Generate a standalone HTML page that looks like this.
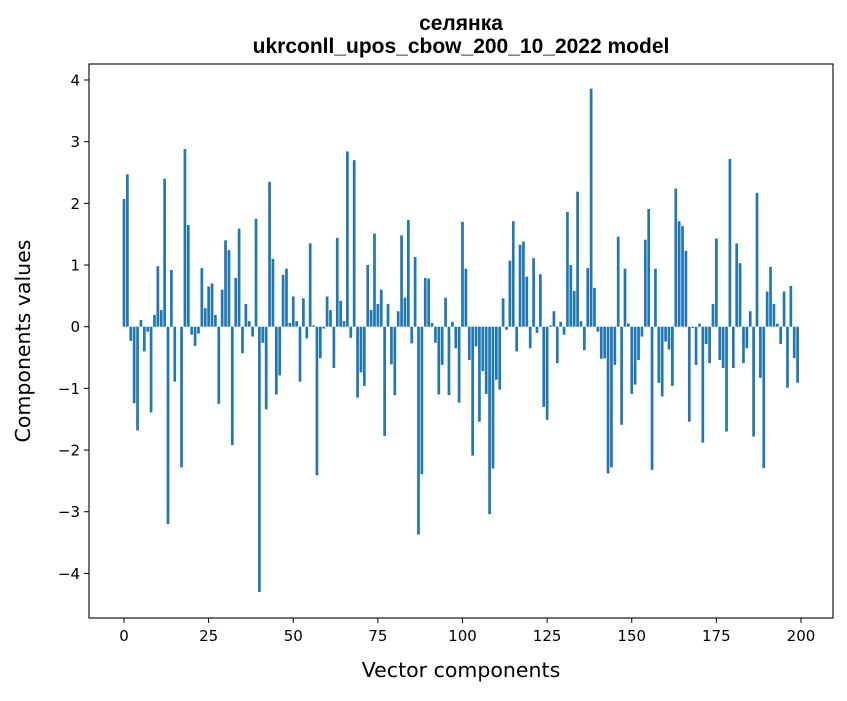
<!DOCTYPE html>
<html><head><meta charset="utf-8"><style>
html,body{margin:0;padding:0;background:#fff;}
svg text{font-family:"DejaVu Sans","Liberation Sans",sans-serif;fill:#000;}
svg text.title{font-family:"Liberation Sans","DejaVu Sans",sans-serif;}
</style></head><body>
<svg id="chart" width="847" height="696" viewBox="0 0 847 696" xmlns="http://www.w3.org/2000/svg">
<rect width="847" height="696" fill="#fff"/>
<text class="title" x="461" y="30" font-size="21" font-weight="bold" text-anchor="middle">селянка</text>
<text class="title" x="461" y="53" font-size="21" font-weight="bold" text-anchor="middle">ukrconll_upos_cbow_200_10_2022 model</text>
<g id="bars"></g>
<g id="axes"></g>
<text x="461" y="677" font-size="20.5" text-anchor="middle">Vector components</text>
<text transform="translate(30,341) rotate(-90)" font-size="20.5" text-anchor="middle">Components values</text>
</svg>
<script>
const values = [2.07,2.47,-0.23,-1.24,-1.68,0.11,-0.40,-0.08,-1.39,0.19,
0.98,0.27,2.40,-3.20,0.92,-0.89,0.0,-2.28,2.88,1.65,
-0.13,-0.31,-0.11,0.95,0.30,0.65,0.70,0.19,-1.25,0.60,
1.40,1.24,-1.92,0.79,1.59,-0.43,0.37,0.09,-0.16,1.75,
-4.30,-0.26,-1.34,2.35,1.10,-1.10,-0.79,0.84,0.94,0.06,
0.49,0.09,-0.89,0.46,-0.19,1.35,0.02,-2.41,-0.51,-0.03,
0.49,0.27,-0.67,1.44,0.42,0.09,2.84,-0.18,2.70,-1.15,
-0.74,-0.96,1.00,0.27,1.51,0.37,0.60,-1.77,0.37,-0.61,
-1.11,0.25,1.48,0.47,1.73,-0.27,1.13,-3.37,-2.39,0.79,
0.78,0.06,-0.26,-1.10,-0.62,0.47,-1.11,0.08,-0.35,-1.23,
1.70,0.94,-0.54,-2.09,-0.32,-1.54,-0.72,-1.09,-3.04,-2.30,
-0.86,-1.02,0.46,-0.05,1.07,1.71,-0.40,1.33,1.38,0.81,
-0.35,1.11,-0.10,0.85,-1.30,-1.51,0.02,0.25,-0.59,0.08,
-0.13,1.86,1.00,0.58,2.19,0.09,-0.38,0.95,3.86,0.63,
-0.08,-0.52,-0.51,-2.38,-2.28,-0.62,1.46,-1.59,0.94,0.05,
-1.09,-0.94,-0.54,-0.16,1.41,1.91,-2.32,0.94,-0.91,-1.13,
-0.24,-0.37,-0.96,2.24,1.71,1.63,1.23,-1.54,-0.02,-0.62,
0.05,-1.88,-0.28,-0.59,0.37,1.43,-0.54,-0.67,-1.70,2.72,
-0.67,1.35,1.03,-0.59,-0.35,0.25,-1.78,2.17,-0.83,-2.29,
0.57,0.97,0.37,0.05,-0.28,0.57,-0.99,0.66,-0.51,-0.91];
const xTicks = [0,25,50,75,100,125,150,175,200];
const yTicks = [-4,-3,-2,-1,0,1,2,3,4];
const NS="http://www.w3.org/2000/svg";
const L=89,R=833,T=64,B=618;
function xs(v){return 124+(v-0)*(801-124)/200;}
function ys(v){return 326.7-v*61.68;}
const bars=document.getElementById('bars');
values.forEach((v,i)=>{
  const r=document.createElementNS(NS,'rect');
  const w=0.8*(801-124)/200;
  r.setAttribute('x',xs(i)-w/2);
  r.setAttribute('width',w);
  r.setAttribute('y',Math.min(ys(v),ys(0)));
  r.setAttribute('height',Math.abs(ys(v)-ys(0)));
  r.setAttribute('fill','#1f77b4');
  
  
  bars.appendChild(r);
});
const ax=document.getElementById('axes');
const frame=document.createElementNS(NS,'rect');
frame.setAttribute('x',L);frame.setAttribute('y',T);frame.setAttribute('width',R-L);frame.setAttribute('height',B-T);
frame.setAttribute('fill','none');frame.setAttribute('stroke','#000');frame.setAttribute('stroke-width','1.1');


ax.appendChild(frame);
xTicks.forEach(t=>{
  const l=document.createElementNS(NS,'line');
  l.setAttribute('x1',xs(t));l.setAttribute('x2',xs(t));l.setAttribute('y1',B);l.setAttribute('y2',B+5);
  l.setAttribute('stroke','#000');
  
  
  ax.appendChild(l);
  const tx=document.createElementNS(NS,'text');
  tx.setAttribute('x',xs(t));tx.setAttribute('y',B+23);tx.setAttribute('font-size','15');tx.setAttribute('text-anchor','middle');
  tx.textContent=t;
  
  
  ax.appendChild(tx);
});
yTicks.forEach(t=>{
  const l=document.createElementNS(NS,'line');
  l.setAttribute('x1',L-5);l.setAttribute('x2',L);l.setAttribute('y1',ys(t));l.setAttribute('y2',ys(t));
  l.setAttribute('stroke','#000');
  
  
  ax.appendChild(l);
  const tx=document.createElementNS(NS,'text');
  tx.setAttribute('x',L-9);tx.setAttribute('y',ys(t)+5.5);tx.setAttribute('font-size','15');tx.setAttribute('text-anchor','end');
  tx.textContent=(t<0?'\u2212'+(-t):String(t));
  
  
  ax.appendChild(tx);
});
</script>
</body></html>
